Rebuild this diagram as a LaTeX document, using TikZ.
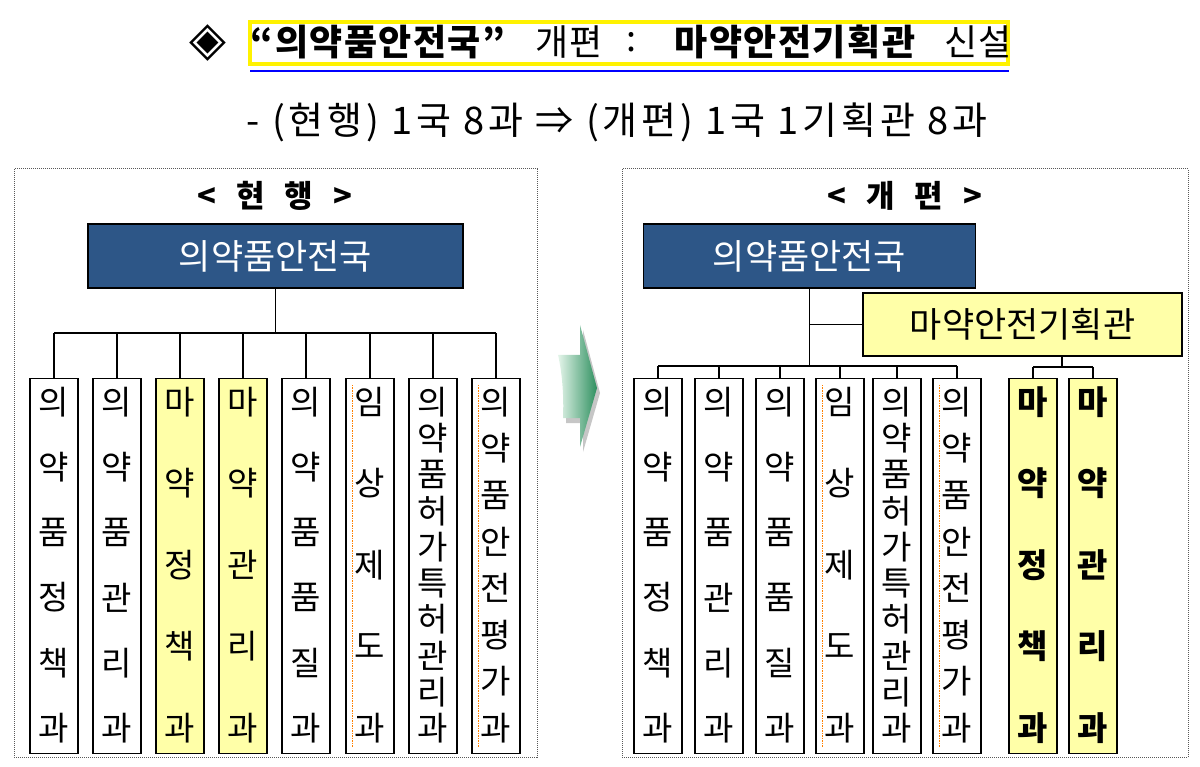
\documentclass[tikz,border=0pt]{standalone}
\usepackage{fontspec}
\setmainfont{Noto Sans CJK KR}
\newfontfamily\symfont{DejaVu Sans}
\definecolor{navy}{HTML}{2D5687}
\definecolor{paleyellow}{HTML}{FFFFA8}
\definecolor{darkgreen}{HTML}{2F9060}
\definecolor{palegreen}{HTML}{E4F5EA}
\newcommand{\fsize}[1]{\fontsize{#1}{#1}\selectfont}
% one department: box, then its name written top to bottom
\newcommand{\dept}[6]{%
  \node[deptbox, fill=#3] (#1) at (#2,378) {};
  \foreach [count=\k] \c in {#6}
    \node[#5] (#1-\k) at (#2,{402+(\k-1)*326/(#4-1)}) {\c};}

\begin{document}
\begin{tikzpicture}[x=1pt,y=-1pt,
    head/.style={draw=black, fill=navy, text=white, line width=1.2, minimum width=#1, minimum height=64, inner sep=0, font=\fsize{35}},
    plan/.style={draw=black, fill=paleyellow, line width=1.2, minimum width=319, minimum height=63, inner sep=0, font=\fsize{35}},
    deptbox/.style={draw, line width=1.2, minimum width=48, minimum height=375, anchor=north, inner sep=0},
    ch/.style={inner sep=0, font=\fsize{33}},
    chb/.style={inner sep=0, font=\fsize{33}\bfseries},
    link/.style={line width=1.2},
    spell/.style={draw=orange, densely dotted, line width=1.5},
    frame/.style={draw=gray!70!black, densely dotted, line width=1},
    panelname/.style={inner sep=0, font=\fsize{31}\bfseries},
    ttl/.style={inner sep=0, font=\fsize{36}},
    ttlb/.style={inner sep=0, font=\fsize{36}\bfseries\addfontfeature{LetterSpace=4}}]
  \useasboundingbox (0,0) rectangle (1200,767);
  % title
  \node[draw=yellow, line width=4, fill=white, minimum width=758, minimum height=42] (tbox) at (629,43) {};
  \draw[blue, line width=1.5] (250,71) -- (1009,71);
  \node[inner sep=0, font=\fsize{48}\symfont] (mark) at (208,43) {◈};
  \node[ttlb] (tbureau) at (378,42) {“의약품안전국”};
  \node[ttl] (treform) at (569,42) {개편};
  \node[ttl] (tcolon) at (631,42) {:};
  \node[ttlb] (tplan) at (795,42) {마약안전기획관};
  \node[ttl] (tnew) at (978,42) {신설};
  \node[inner sep=0, font=\fsize{38}\addfontfeature{LetterSpace=10}] (summary) at (617,122)
    {- (현행) 1국 8과 ⇒ (개편) 1국 1기획관 8과};
  % arrow between the panels
  \fill[gray!45, shift={(3,5)}] (558,355) -- (580,355) -- (580,325) -- (597,388)
    -- (580,447) -- (580,418) -- (563,418) .. controls (564,395) and (562,372) .. (558,355) -- cycle;
  \shade[left color=palegreen, right color=darkgreen] (558,355) -- (580,355) -- (580,325) -- (597,388)
    -- (580,447) -- (580,418) -- (563,418) .. controls (564,395) and (562,372) .. (558,355) -- cycle;

  % ---- current ----
  \draw[frame] (14,169) rectangle (537,757);
  \node[panelname] (Lname) at (275,196) {<\hspace{20pt}현\hspace{20pt}행\hspace{20pt}>};
  \node[head=375] (Lhead) at (275.5,256) {의약품안전국};
  \coordinate (Lbar) at (275.5,333);
  \dept{L1}{54}{white}{6}{ch}{의,약,품,정,책,과}
  \dept{L2}{117}{white}{6}{ch}{의,약,품,관,리,과}
  \dept{L3}{180}{paleyellow}{5}{ch}{마,약,정,책,과}
  \dept{L4}{243}{paleyellow}{5}{ch}{마,약,관,리,과}
  \dept{L5}{306}{white}{6}{ch}{의,약,품,품,질,과}
  \dept{L6}{370}{white}{5}{ch}{임,상,제,도,과}
  \dept{L7}{433}{white}{10}{ch}{의,약,품,허,가,특,허,관,리,과}
  \dept{L8}{496}{white}{8}{ch}{의,약,품,안,전,평,가,과}
  \draw[link] (Lhead.south) -- (Lbar);
  \draw[link] (L1.north |- Lbar) -- (L8.north |- Lbar);
  \foreach \i in {1,...,8}
    \draw[link] (L\i.north |- Lbar) -- (L\i.north);
  \draw[spell] ([xshift=7pt,yshift=-7pt]L6.north west) -- ([xshift=7pt,yshift=7pt]L6.south west);
  \draw[spell] ([xshift=7pt,yshift=-7pt]L8.north west) -- ([xshift=7pt,yshift=7pt]L8.south west);

  % ---- reorganised ----
  \draw[frame] (622,169) rectangle (1188,757);
  \node[panelname] (Rname) at (905,196) {<\hspace{20pt}개\hspace{20pt}편\hspace{20pt}>};
  \node[head=332] (Rhead) at (809.5,256) {의약품안전국};
  \node[plan] (Rplan) at (1022.5,324.5) {마약안전기획관};
  \coordinate (Rbar) at (809.5,366);
  \coordinate (Pbar) at (1062,367);
  \dept{R1}{658}{white}{6}{ch}{의,약,품,정,책,과}
  \dept{R2}{719}{white}{6}{ch}{의,약,품,관,리,과}
  \dept{R3}{780}{white}{6}{ch}{의,약,품,품,질,과}
  \dept{R4}{840}{white}{5}{ch}{임,상,제,도,과}
  \dept{R5}{897}{white}{10}{ch}{의,약,품,허,가,특,허,관,리,과}
  \dept{R6}{957}{white}{8}{ch}{의,약,품,안,전,평,가,과}
  \dept{R7}{1033}{paleyellow}{5}{chb}{마,약,정,책,과}
  \dept{R8}{1093}{paleyellow}{5}{chb}{마,약,관,리,과}
  \draw[link] (Rhead.south) -- (Rbar);
  \draw[link] (Rhead.south |- Rplan.west) -- (Rplan.west);
  \draw[link] (R1.north |- Rbar) -- (R6.north |- Rbar);
  \foreach \i in {1,...,6}
    \draw[link] (R\i.north |- Rbar) -- (R\i.north);
  \draw[link] (Pbar |- Rplan.south) -- (Pbar);
  \draw[link] (R7.north |- Pbar) -- (R8.north |- Pbar);
  \foreach \i in {7,8}
    \draw[link] (R\i.north |- Pbar) -- (R\i.north);
  \draw[spell] ([xshift=7pt,yshift=-7pt]R4.north west) -- ([xshift=7pt,yshift=7pt]R4.south west);
  \draw[spell] ([xshift=7pt,yshift=-7pt]R6.north west) -- ([xshift=7pt,yshift=7pt]R6.south west);
\end{tikzpicture}
\end{document}
